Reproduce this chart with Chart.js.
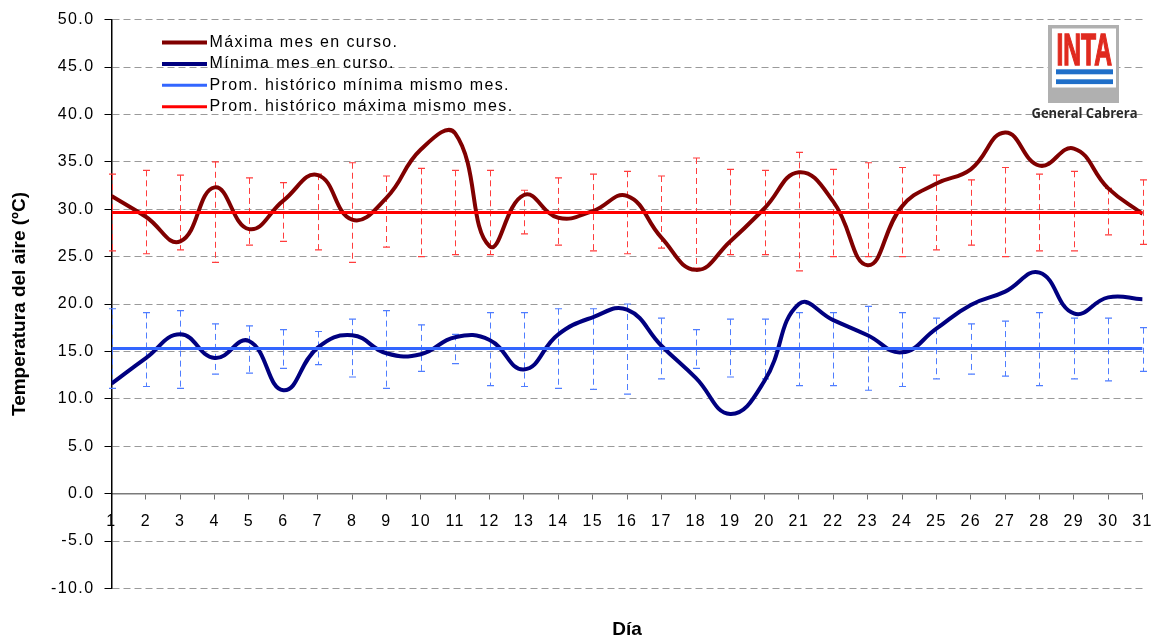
<!DOCTYPE html>
<html><head><meta charset="utf-8">
<script src="https://cdn.jsdelivr.net/npm/chart.js@4/dist/chart.umd.min.js"></script>
<style>
html,body{margin:0;padding:0;background:#fff;}
#wrap{position:relative;width:1157px;height:642px;overflow:hidden;}
#c{position:absolute;left:0;top:0;}
#logo{position:absolute;left:0;top:0;pointer-events:none;}
</style></head><body>
<div id="wrap">
<canvas id="c" width="1157" height="642"></canvas>
<svg id="logo" width="1157" height="130" xmlns="http://www.w3.org/2000/svg">
  <rect x="1048" y="25" width="71" height="78" fill="#b0b0b0"/>
  <rect x="1052" y="28.5" width="64" height="59" fill="#ffffff"/>
  <text x="1056.5" y="65" font-family="Liberation Sans, Arial, sans-serif" font-weight="bold" font-size="45" fill="#e02a1f" stroke="#e02a1f" stroke-width="1.6" textLength="55.5" lengthAdjust="spacingAndGlyphs">INTA</text>
  <rect x="1056" y="69.3" width="57" height="5" fill="#1f6fc9"/>
  <rect x="1056" y="79.3" width="57" height="4.8" fill="#1f6fc9"/>
  <text x="1031.5" y="117.8" font-family="Open Sans, Noto Sans, sans-serif" font-weight="700" font-size="14.5" fill="#2a2a2a" textLength="106" lengthAdjust="spacingAndGlyphs">General Cabrera</text>
</svg>
</div>
<script>
// ---- data ----
const days = [1,2,3,4,5,6,7,8,9,10,11,12,13,14,15,16,17,18,19,20,21,22,23,24,25,26,27,28,29,30,31];
const maximaMes = [31.4,29.2,26.6,32.3,27.9,30.9,33.6,28.9,31.2,36.3,38.0,26.1,31.5,29.1,29.8,31.4,27.0,23.6,26.6,30.1,33.9,30.8,24.1,30.3,32.7,34.2,38.1,34.6,36.4,32.2,29.5];
const minimaMes = [11.6,14.3,16.8,14.3,16.1,10.9,15.4,16.7,14.8,14.7,16.5,16.2,13.1,16.8,18.6,19.4,15.6,12.2,8.4,11.9,20.0,18.3,16.7,14.9,17.4,19.9,21.3,23.3,19.0,20.7,20.5];
const promHistMax = 29.65;
const promHistMin = 15.3;
const histMaxHi = [33.7,34.1,33.6,35.0,33.3,32.8,33.7,34.9,33.5,34.3,34.1,34.1,32.0,33.3,33.7,34.0,33.5,35.4,34.2,34.1,36.0,34.2,34.9,34.4,33.6,33.1,34.4,33.7,34.0,32.2,33.1];
const histMaxLo = [25.6,25.3,25.7,24.4,26.2,26.6,25.7,24.4,26.0,25.0,25.2,25.2,27.4,26.2,25.6,25.3,25.9,23.8,25.2,25.2,23.5,25.0,25.0,25.0,25.7,26.2,25.0,25.6,25.6,27.3,26.3];
const histMinHi = [19.5,19.1,19.3,17.9,17.7,17.3,17.1,18.4,19.3,17.8,16.8,19.1,19.1,19.5,19.5,20.0,18.5,17.3,18.4,18.4,19.1,19.1,19.75,19.1,18.5,17.9,18.2,19.1,18.5,18.5,17.5];
const histMinLo = [11.1,11.3,11.1,12.6,12.7,13.2,13.6,12.3,11.1,12.9,13.7,11.4,11.3,11.1,11.0,10.5,12.1,13.2,12.3,12.1,11.4,11.4,10.9,11.3,12.1,12.6,12.4,11.4,12.1,11.9,12.9];
const yMin = -10, yMax = 50, yStep = 5;
const legendLabels = ['Máxima mes en curso.','Mínima mes en curso.','Prom. histórico mínima mismo mes.','Prom. histórico máxima mismo mes.'];
const yTitle = 'Temperatura del aire (ºC)';
const xTitle = 'Día';

const FONT = "'Liberation Sans', Arial, sans-serif";
Chart.defaults.font.family = FONT;
Chart.defaults.font.size = 16;
Chart.defaults.color = '#000';

const pts = arr => days.map((d,i)=>({x:d, y:arr[i]}));
const flat = v => [{x:days[0], y:v}, {x:days[days.length-1], y:v}];

const spacingPlugin = {
  id:'spacing',
  beforeUpdate(chart){ chart.ctx.letterSpacing = '1.4px'; },
  beforeDraw(chart){ chart.ctx.letterSpacing = '1.4px'; }
};

const errorBars = {
  id:'errorBars',
  beforeDatasetsDraw(chart){
    const {ctx, scales:{x, y}} = chart;
    const draw = (hi, lo, color) => {
      days.forEach((d,i)=>{
        const px = Math.round(x.getPixelForValue(d)) + 0.5;
        const y1 = y.getPixelForValue(hi[i]), y2 = y.getPixelForValue(lo[i]);
        ctx.save();
        ctx.strokeStyle = color; ctx.lineWidth = 1;
        ctx.setLineDash([6,4]);
        ctx.beginPath(); ctx.moveTo(px, y1); ctx.lineTo(px, y2); ctx.stroke();
        ctx.setLineDash([]);
        ctx.lineWidth = 1.2;
        ctx.beginPath();
        ctx.moveTo(px-3.5, y1); ctx.lineTo(px+3.5, y1);
        ctx.moveTo(px-3.5, y2); ctx.lineTo(px+3.5, y2);
        ctx.stroke();
        ctx.restore();
      });
    };
    draw(histMaxHi, histMaxLo, '#ff3d3d');
    draw(histMinHi, histMinLo, '#4f7dff');
  }
};

const legendAndTitles = {
  id:'legendTitles',
  afterDraw(chart){
    const ctx = chart.ctx;
    ctx.save();
    ctx.letterSpacing = '1.4px';
    const ys = [42.5, 63.9, 85.3, 106.7];
    chart.data.datasets.forEach((ds, i)=>{
      ctx.strokeStyle = ds.borderColor;
      ctx.lineWidth = ds.borderWidth;
      ctx.beginPath(); ctx.moveTo(162, ys[i]); ctx.lineTo(207, ys[i]); ctx.stroke();
      ctx.fillStyle = '#000';
      ctx.font = '16px ' + FONT;
      ctx.textBaseline = 'middle'; ctx.textAlign = 'left';
      ctx.fillText(ds.label, 209.5, ys[i]);
    });
    ctx.letterSpacing = '0px';
    ctx.font = 'bold 19px ' + FONT;
    ctx.textAlign = 'center'; ctx.textBaseline = 'middle';
    const a = chart.chartArea;
    ctx.fillText(xTitle, (a.left + a.right)/2, 629.5);
    ctx.translate(20, (a.top + a.bottom)/2);
    ctx.rotate(-Math.PI/2);
    ctx.fillText(yTitle, 0, 0);
    ctx.restore();
  }
};

new Chart(document.getElementById('c'), {
  type:'line',
  data:{
    datasets:[
      {label:legendLabels[0], data:pts(maximaMes), borderColor:'#800000', borderWidth:4, tension:0.45, pointRadius:0, order:3},
      {label:legendLabels[1], data:pts(minimaMes), borderColor:'#000080', borderWidth:4, tension:0.45, pointRadius:0, order:4},
      {label:legendLabels[2], data:flat(promHistMin), borderColor:'#3366ff', borderWidth:3, pointRadius:0, order:1},
      {label:legendLabels[3], data:flat(promHistMax), borderColor:'#ff0000', borderWidth:3, pointRadius:0, order:2}
    ]
  },
  options:{
    responsive:false, animation:false,
    layout:{padding:{left:0, top:17.7, right:14.4, bottom:53.6}},
    plugins:{legend:{display:false}, tooltip:{enabled:false}},
    scales:{
      x:{
        type:'linear', position:{y:0}, min:days[0], max:days[days.length-1],
        ticks:{stepSize:1, autoSkip:false, maxRotation:0, padding:13, font:{size:16}},
        grid:{drawOnChartArea:false, drawTicks:true, tickLength:5, tickColor:'#707070'},
        border:{color:'#7a7a7a', width:1.5},
        afterFit(s){ s.paddingLeft = 0; s.paddingRight = 0; }
      },
      y:{
        type:'linear', min:yMin, max:yMax,
        ticks:{stepSize:yStep, padding:10, callback:v=>v.toFixed(1), font:{size:16}},
        grid:{color:'#9a9a9a', lineWidth:1, tickColor:'#000', tickLength:7},
        border:{color:'#000', width:1.5, dash:[7,4]},
        afterFit(s){ s.width = 111.5; }
      }
    }
  },
  plugins:[spacingPlugin, errorBars, legendAndTitles]
});
</script>
</body></html>
